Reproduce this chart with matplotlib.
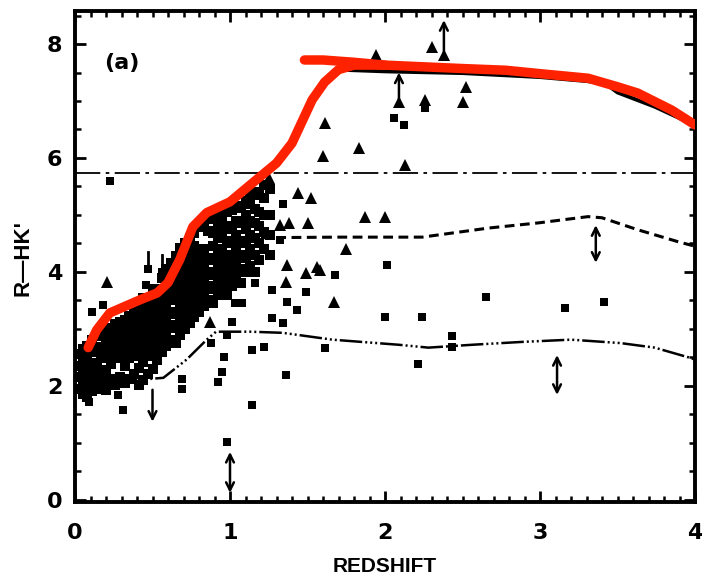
import matplotlib
matplotlib.use("Agg")
import matplotlib.pyplot as plt
from matplotlib.ticker import MultipleLocator

# ---------------- data ----------------
red_rise_x = [0.085, 0.14, 0.225, 0.42, 0.53, 0.60, 0.675, 0.76, 0.85, 1.00, 1.145, 1.30, 1.40, 1.53, 1.61, 1.70, 1.80, 2.00]
red_rise_y = [2.67, 2.98, 3.28, 3.51, 3.63, 3.81, 4.21, 4.79, 5.04, 5.23, 5.56, 5.91, 6.26, 7.02, 7.33, 7.55, 7.63, 7.63]
red_top_x = [1.48, 1.60, 1.80, 2.00, 2.50, 2.78, 3.00, 3.31, 3.50, 3.63, 3.85, 4.00]
red_top_y = [7.72, 7.72, 7.68, 7.63, 7.57, 7.54, 7.48, 7.40, 7.25, 7.14, 6.84, 6.58]

solid_x = [1.60, 1.70, 2.00, 2.50, 3.00, 3.30, 3.42, 3.50, 3.74, 3.97, 4.00]
solid_y = [7.35, 7.55, 7.52, 7.49, 7.42, 7.35, 7.31, 7.15, 6.90, 6.61, 6.56]

dashed_x = [1.20, 1.70, 2.24, 2.67, 2.99, 3.31, 3.40, 3.63, 3.89, 4.00]
dashed_y = [4.60, 4.61, 4.61, 4.77, 4.86, 4.97, 4.95, 4.74, 4.53, 4.45]

lower_x = [0.00, 0.25, 0.57, 0.72, 0.85, 0.91, 1.13, 1.34, 1.66, 2.09, 2.28, 2.56, 2.88, 3.20, 3.52, 3.74, 3.97, 4.00]
lower_y = [1.95, 2.07, 2.14, 2.46, 2.81, 2.95, 2.95, 2.93, 2.81, 2.72, 2.67, 2.72, 2.77, 2.81, 2.75, 2.67, 2.49, 2.46]

hline_y = 5.74

# dense cluster of squares (x, list of y)
cluster_cols = [
    (0.02, [1.95, 2.15, 2.35, 2.55]),
    (0.05, [1.85, 2.05, 2.25, 2.45, 2.65]),
    (0.08, [1.80, 1.95, 2.10, 2.30, 2.50, 2.70]),
    (0.11, [1.90, 2.05, 2.20, 2.40, 2.60, 2.80]),
    (0.14, [1.95, 2.12, 2.35, 2.62, 2.88]),
    (0.17, [2.02, 2.22, 2.48, 2.68, 2.95]),
    (0.20, [1.92, 2.08, 2.28, 2.55, 2.80, 3.02]),
    (0.23, [2.12, 2.38, 2.62, 2.78, 2.98]),
    (0.26, [2.02, 2.48, 2.68, 2.88, 3.08]),
    (0.29, [2.15, 2.52, 2.72, 2.92, 3.12]),
    (0.32, [2.05, 2.35, 2.58, 2.78, 2.98, 3.15]),
    (0.35, [2.12, 2.48, 2.68, 2.88, 3.08, 3.22]),
    (0.38, [2.20, 2.52, 2.72, 2.92, 3.12, 3.32]),
    (0.41, [2.02, 2.32, 2.58, 2.78, 3.02, 3.22, 3.45]),
    (0.44, [2.10, 2.42, 2.66, 2.86, 3.06, 3.32, 3.55]),
    (0.47, [2.20, 2.52, 2.72, 2.96, 3.16, 3.42]),
    (0.50, [2.30, 2.62, 2.82, 3.06, 3.26, 3.50, 3.70]),
    (0.53, [2.45, 2.72, 2.92, 3.12, 3.36, 3.60]),
    (0.56, [2.60, 2.86, 3.02, 3.22, 3.46, 3.70, 3.90]),
    (0.59, [2.70, 2.96, 3.16, 3.36, 3.56, 3.80, 4.05]),
    (0.62, [2.80, 3.06, 3.26, 3.50, 3.70, 3.95, 4.15]),
    (0.65, [2.75, 3.02, 3.30, 3.55, 3.80, 4.05, 4.28]),
    (0.68, [2.90, 3.15, 3.40, 3.65, 3.90, 4.15, 4.42]),
    (0.71, [3.00, 3.25, 3.50, 3.75, 4.00, 4.25, 4.50]),
    (0.74, [3.10, 3.35, 3.60, 3.85, 4.10, 4.35, 4.60]),
    (0.77, [3.20, 3.45, 3.70, 3.95, 4.20, 4.45, 4.68]),
    (0.80, [3.30, 3.55, 3.80, 4.05, 4.30, 4.78]),
    (0.83, [3.40, 3.65, 3.90, 4.15, 4.40, 4.85]),
    (0.86, [3.50, 3.75, 4.00, 4.25, 4.72, 4.92]),
    (0.89, [3.45, 3.70, 3.95, 4.20, 4.45, 4.68, 4.95]),
    (0.92, [3.60, 3.85, 4.10, 4.35, 4.60, 4.85, 5.02]),
    (0.95, [3.70, 3.95, 4.20, 4.40, 4.70, 4.95]),
    (0.98, [3.60, 3.85, 4.10, 4.30, 4.55, 4.80, 5.05]),
    (1.01, [3.75, 4.00, 4.25, 4.50, 4.75, 5.08]),
    (1.04, [3.90, 4.15, 4.40, 4.65, 4.90, 5.15]),
    (1.07, [3.80, 4.05, 4.30, 4.55, 4.85, 5.12]),
    (1.10, [4.00, 4.25, 4.50, 4.75, 5.00, 5.25]),
    (1.13, [4.10, 4.40, 4.65, 4.90, 5.20, 5.38]),
    (1.16, [4.00, 4.30, 4.60, 4.85, 5.10, 5.35]),
    (1.19, [4.20, 4.50, 4.80, 5.05, 5.40]),
    (1.22, [4.40, 4.70, 5.00, 5.30, 5.52]),
    (1.26, [4.30, 4.65, 5.00, 5.45]),
]

sq_x = [0.225, 1.34, 1.32, 1.68, 2.01, 2.00, 2.24, 2.65, 2.43, 2.43, 1.61, 2.21, 3.16, 3.41,
        1.27, 1.49, 1.03, 1.08, 1.16, 1.37, 1.43, 1.27, 1.34, 1.01, 0.98, 1.14, 1.22, 0.96,
        0.95, 0.92, 1.36, 1.14, 0.98, 0.28, 0.31, 0.09, 0.69, 0.69, 0.46, 0.18, 0.11, 0.75,
        2.06, 2.12, 2.26, 0.47, 0.56, 0.63, 0.88]
sq_y = [5.60, 5.20, 4.56, 3.95, 4.12, 3.21, 3.21, 3.56, 2.88, 2.68, 2.67, 2.39, 3.37, 3.47,
        3.68, 3.65, 3.45, 3.45, 3.80, 3.47, 3.33, 3.19, 3.10, 3.12, 2.89, 2.63, 2.68, 2.50,
        2.25, 2.07, 2.19, 1.67, 1.02, 1.84, 1.58, 1.72, 1.95, 2.12, 3.77, 3.42, 3.30, 3.12,
        6.70, 6.58, 6.88, 4.05, 4.00, 4.02, 2.75]

tri_x = [0.205, 1.25, 1.44, 1.52, 1.38, 1.50, 1.32, 1.37, 1.56, 1.60, 1.61, 1.83, 2.13, 1.94,
         2.09, 2.26, 2.52, 2.50, 2.38, 2.30, 1.87, 2.00, 1.75, 1.58, 1.67, 1.36, 1.49, 0.87]
tri_y = [3.83, 5.65, 5.38, 5.30, 4.86, 4.86, 4.82, 4.12, 4.09, 6.03, 6.61, 6.17, 5.88, 7.80,
         6.98, 7.02, 7.25, 6.98, 7.80, 7.95, 4.96, 4.96, 4.40, 4.04, 3.47, 3.83, 3.98, 3.12]

# limits: (x, tail y, head y)
up_arrows = [(2.09, 6.98, 7.50), (2.38, 7.80, 8.42)]
down_arrows = [(0.50, 1.93, 1.37)]
double_arrows = [(1.00, 0.84, 0.12), (3.11, 2.54, 1.84), (3.36, 4.82, 4.16)]
bar_marks = [(0.47, 4.05, 4.35), (0.56, 4.00, 4.30), (0.63, 4.02, 4.32)]

xticks = [0, 1, 2, 3, 4]
yticks = [0, 2, 4, 6, 8]

# ---------------- figure ----------------
fig = plt.figure(figsize=(7.02, 5.80), dpi=100)
ax = fig.add_axes([75/702, 1 - 502/580, 620/702, 491/580])

for cx, ys in cluster_cols:
    ax.plot([cx] * len(ys), ys, ls='none', marker='s', ms=7.2, color='k', mew=0)
ax.plot(sq_x, sq_y, ls='none', marker='s', ms=6.2, color='k', mew=0)
ax.plot(tri_x, tri_y, ls='none', marker='^', ms=8, color='k', mew=0)

for x, y0, y1 in bar_marks:
    ax.plot([x, x], [y0, y1], color='k', lw=2)

arrow_kw = dict(color='k', lw=1.8, shrinkA=0, shrinkB=0, mutation_scale=14)
for x, y0, y1 in up_arrows + down_arrows:
    ax.annotate('', xy=(x, y1), xytext=(x, y0), arrowprops=dict(arrowstyle='->', **arrow_kw))
for x, y0, y1 in double_arrows:
    ax.annotate('', xy=(x, y1), xytext=(x, y0), arrowprops=dict(arrowstyle='<->', **arrow_kw))

ax.axhline(hline_y, color='k', lw=1.3, dashes=(14, 3, 2, 3))
ax.plot(dashed_x, dashed_y, color='k', lw=2.2, dashes=(3.2, 1.8))
ax.plot(lower_x, lower_y, color='k', lw=1.8, dashes=(9, 1.2, 0.8, 1.2, 0.8, 1.2, 0.8, 1.2))
ax.plot(solid_x, solid_y, color='k', lw=2.8)

red = '#ff2200'
ax.plot(red_rise_x, red_rise_y, color=red, lw=6.8, solid_capstyle='round', solid_joinstyle='round', zorder=5)
ax.plot(red_top_x, red_top_y, color=red, lw=6.8, solid_capstyle='round', solid_joinstyle='round', zorder=5)

ax.text(0.30, 7.67, '(a)', fontsize=16, fontweight='bold', ha='center', va='center', color='k')

ax.set_xlim(0, 4)
ax.set_ylim(-0.04, 8.58)
ax.set_xticks(xticks)
ax.set_yticks(yticks)
ax.xaxis.set_minor_locator(MultipleLocator(0.1))
ax.yaxis.set_minor_locator(MultipleLocator(0.5))
ax.tick_params(which='both', direction='in', top=True, right=True, color='k')
ax.tick_params(which='major', length=8, width=2)
ax.tick_params(which='minor', length=4.5, width=1.8)
ax.tick_params(axis='x', which='major', pad=15, labelsize=16)
ax.tick_params(axis='y', which='major', pad=9, labelsize=16)
for lab in ax.get_xticklabels() + ax.get_yticklabels():
    lab.set_fontweight('bold')
for sp in ax.spines.values():
    sp.set_linewidth(2.8)

fig.text(385/702, 1 - 567/580, 'REDSHIFT', ha='center', va='center', fontsize=15, fontweight='bold',
         family='Liberation Sans')
fig.text(23/702, 1 - 258/580, "R\u2014HK'", ha='center', va='center', rotation=90, fontsize=16,
         fontweight='bold', family='Liberation Sans')

fig.savefig('out.png', dpi=100)
